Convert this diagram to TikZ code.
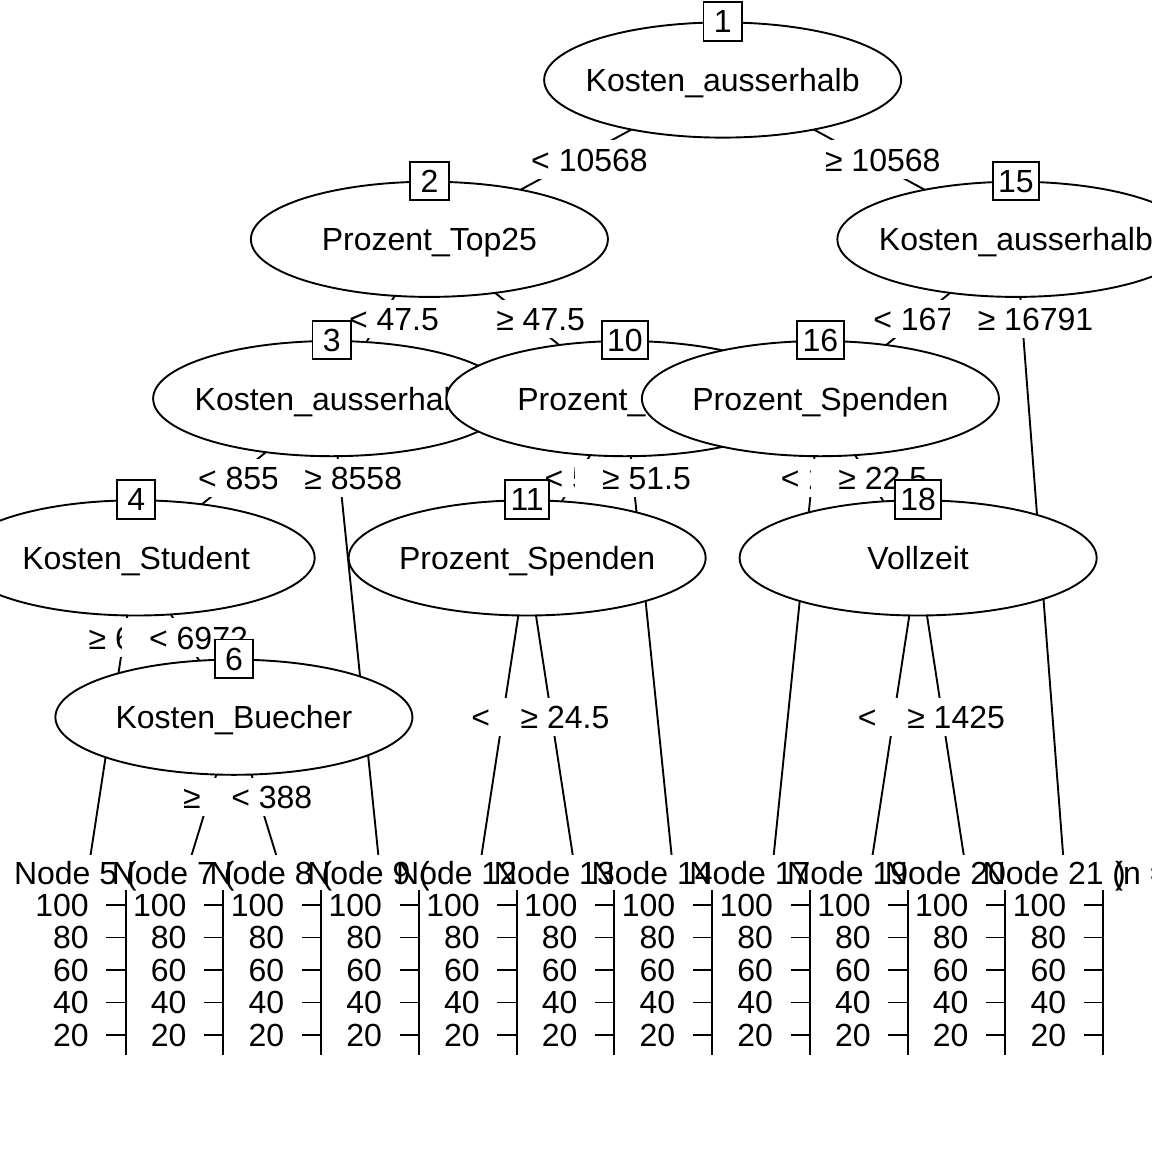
\documentclass[tikz,border=0pt]{standalone}
\usepackage{fontspec}
\setmainfont{Liberation Sans}
\usetikzlibrary{shapes.geometric}

\tikzset{
  innode/.style={ellipse, draw, fill=white, inner sep=0pt,
    minimum width=178.5pt, minimum height=57.6pt},
  idbox/.style={draw, fill=white, minimum size=19.2pt, inner xsep=2.68pt, inner ysep=0pt},
  elab/.style={fill=white, inner xsep=0.25pt, inner ysep=0pt, minimum height=19.2pt,
    execute at begin node={\hspace*{13.5pt}}},
}

\begin{document}
\begin{tikzpicture}[x=0.5pt, y=-0.5pt, line width=0.95pt,
  font=\fontsize{16}{19.2}\selectfont,
  every node/.append style={text height=11.46pt, text depth=0pt}]
  \useasboundingbox (0,0) rectangle (1152,1152);

  % inner nodes
  \coordinate (k1) at (722.65,80);
  \coordinate (k2) at (429.4,239.3);
  \coordinate (k3) at (331.65,398.6);
  \coordinate (k4) at (136.15,557.9);
  \coordinate (k6) at (233.9,717.2);
  \coordinate (k10) at (624.9,398.6);
  \coordinate (k11) at (527.15,557.9);
  \coordinate (k15) at (1015.9,239.3);
  \coordinate (k16) at (820.4,398.6);
  \coordinate (k18) at (918.15,557.9);
  % terminal nodes
  \coordinate (t5) at (87.275,876.5);
  \coordinate (t7) at (185.025,876.5);
  \coordinate (t8) at (282.775,876.5);
  \coordinate (t9) at (380.525,876.5);
  \coordinate (t12) at (478.275,876.5);
  \coordinate (t13) at (576.025,876.5);
  \coordinate (t14) at (673.775,876.5);
  \coordinate (t17) at (771.525,876.5);
  \coordinate (t19) at (869.275,876.5);
  \coordinate (t20) at (967.025,876.5);
  \coordinate (t21) at (1064.775,876.5);

  \draw (k1) -- node[elab] (e2) {< 10568} (k2);
  \draw (k1) -- node[elab] (e15) {≥ 10568} (k15);
  \node[innode] (n1) at (k1) {\makebox[0pt]{Kosten\_ausserhalb}};
  \node[idbox] (id1) at (n1.north) {1};

  \draw (k2) -- node[elab] (e3) {< 47.5} (k3);
  \draw (k2) -- node[elab] (e10) {≥ 47.5} (k10);
  \node[innode] (n2) at (k2) {\makebox[0pt]{Prozent\_Top25}};
  \node[idbox] (id2) at (n2.north) {2};

  \draw (k3) -- node[elab] (e4) {< 8558} (k4);
  \draw (k3) -- node[elab, pos=0.1667] (e9) {≥ 8558} (t9);
  \node[innode] (n3) at (k3) {\makebox[0pt]{Kosten\_ausserhalb}};
  \node[idbox] (id3) at (n3.north) {3};

  \draw (k4) -- node[elab, pos=0.25] (e5) {≥ 6972} (t5);
  \draw (k4) -- node[elab] (e6) {< 6972} (k6);
  \node[innode] (n4) at (k4) {\makebox[0pt]{Kosten\_Student}};
  \node[idbox] (id4) at (n4.north) {4};

  \draw (k6) -- node[elab] (e7) {≥ 388} (t7);
  \draw (k6) -- node[elab] (e8) {< 388} (t8);
  \node[innode] (n6) at (k6) {\makebox[0pt]{Kosten\_Buecher}};
  \node[idbox] (id6) at (n6.north) {6};

  \draw (k10) -- node[elab] (e11) {< 51.5} (k11);
  \draw (k10) -- node[elab, pos=0.1667] (e14) {≥ 51.5} (t14);
  \node[innode] (n10) at (k10) {\makebox[0pt]{Prozent\_\phantom{Top25}}};
  \node[idbox] (id10) at (n10.north) {10};

  \draw (k11) -- node[elab] (e12) {< 24.5} (t12);
  \draw (k11) -- node[elab] (e13) {≥ 24.5} (t13);
  \node[innode] (n11) at (k11) {\makebox[0pt]{Prozent\_Spenden}};
  \node[idbox] (id11) at (n11.north) {11};

  \draw (k15) -- node[elab] (e16) {< 16791} (k16);
  \draw (k15) -- node[elab, pos=0.125] (e21) {≥ 16791} (t21);
  \node[innode] (n15) at (k15) {\makebox[0pt]{Kosten\_ausserhalb}};
  \node[idbox] (id15) at (n15.north) {15};

  \draw (k16) -- node[elab, pos=0.1667] (e17) {< 22.5} (t17);
  \draw (k16) -- node[elab] (e18) {≥ 22.5} (k18);
  \node[innode] (n16) at (k16) {\makebox[0pt]{Prozent\_Spenden}};
  \node[idbox] (id16) at (n16.north) {16};

  \draw (k18) -- node[elab] (e19) {< 1425} (t19);
  \draw (k18) -- node[elab] (e20) {≥ 1425} (t20);
  \node[innode] (n18) at (k18) {\makebox[0pt]{Vollzeit}};
  \node[idbox] (id18) at (n18.north) {18};

  % terminal panels, left to right
  \foreach \i/\tn/\vis/\hid in {1/5/{}/{n = 00}, 2/7/{}/{n = 00}, 3/8/{}/{n = 00},
      4/9/{}/{n = 00}, 5/12/{}/{n = 00}, 6/13/{}/{n = 00}, 7/14/{}/{n = 00},
      8/17/{}/{n = 00}, 9/19/{}/{n = 00}, 10/20/{}/{n = 00}, 11/21/{n =\ }/{00}}{
    \pgfmathsetmacro\ax{27.925+97.75*\i}
    \fill[white] (\ax-87.275,854.5) rectangle (\ax+10.475,1060);
    \node (ttl\tn) at (\ax,873.5) {Node \tn\ (\vis\phantom{\hid})};
    \draw (\ax,890) -- (\ax,1055);
    \foreach \v in {20,40,...,100}{
      \pgfmathsetmacro\yy{905+(100-\v)*1.625}
      \draw (\ax-19.2,\yy) -- (\ax,\yy);
      \node[anchor=east, inner sep=0pt] (ax\tn-\v) at (\ax-36,\yy) {\v};
    }
  }
\end{tikzpicture}
\end{document}
